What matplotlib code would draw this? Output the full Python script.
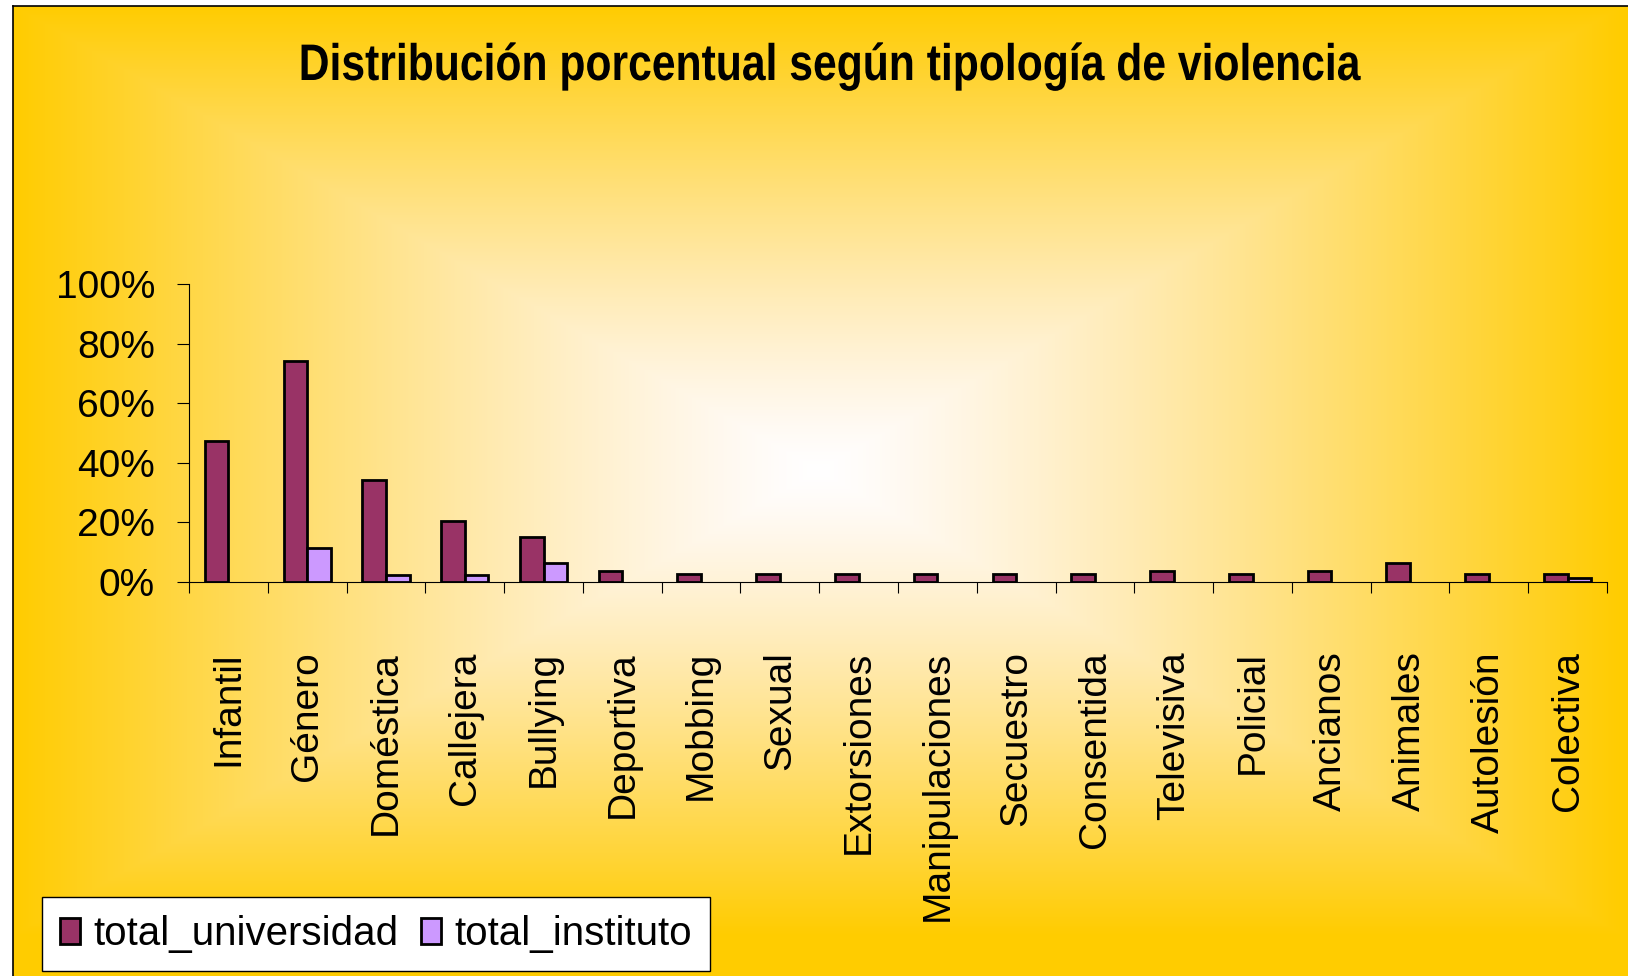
import numpy as np
import matplotlib
matplotlib.use("Agg")
import matplotlib.pyplot as plt
from matplotlib.patches import Patch
from matplotlib.ticker import PercentFormatter
from matplotlib.patheffects import AbstractPathEffect
from matplotlib.transforms import Affine2D

categorias = ["Infantil", "Género", "Doméstica", "Callejera", "Bullying",
              "Deportiva", "Mobbing", "Sexual", "Extorsiones", "Manipulaciones",
              "Secuestro", "Consentida", "Televisiva", "Policial", "Ancianos",
              "Animales", "Autolesión", "Colectiva"]
total_universidad = [47.2, 74.1, 34.3, 20.3, 15.0, 3.5, 2.6, 2.6, 2.6, 2.6,
                     2.6, 2.6, 3.7, 2.6, 3.7, 6.4, 2.6, 2.6]
total_instituto = [0, 11.3, 2.4, 2.4, 6.3, 0, 0, 0, 0, 0,
                   0, 0, 0, 0, 0, 0, 0, 1.2]


class SqueezeX(AbstractPathEffect):
    """squeeze glyphs horizontally around x0 (display px), title font is narrow"""
    def __init__(self, sx, x0):
        super().__init__()
        self.sx, self.x0 = sx, x0

    def draw_path(self, renderer, gc, tpath, affine, rgbFace=None):
        t = affine + Affine2D().translate(-self.x0, 0).scale(self.sx, 1).translate(self.x0, 0)
        renderer.draw_path(gc, tpath, t, rgbFace)


W, H = 1628, 976
plt.rcParams["font.family"] = ["Liberation Sans", "DejaVu Sans"]
fig = plt.figure(figsize=(W / 100, H / 100), dpi=100)

# rectangular "from center" gradient, yellow edges -> white center
bg = fig.add_axes([0, 0, 1, 1], zorder=-10)
xx, yy = np.meshgrid(np.arange(W), np.arange(H))
cx, cy, a, b = 818, 470, 805, 465
t = np.clip(np.maximum(np.abs(xx - cx) / a, np.abs(yy - cy) / b), 0, 1)
img = np.ones((H, W, 3))
img[..., 1] = 1 - (51 / 255) * t
img[..., 2] = 1 - t ** 1.3
img[:6, :, :] = 1
img[:, :13, :] = 1
bg.imshow(img, extent=(0, W, H, 0), aspect="auto", interpolation="bilinear")
bg.plot([13, W], [6, 6], color="black", lw=1.2)
bg.plot([13, 13], [6, H], color="black", lw=1.2)
bg.set_xlim(0, W)
bg.set_ylim(H, 0)
bg.axis("off")

title_x = 829.5
fig.text(title_x / W, 1 - 80 / H, "Distribución porcentual según tipología de violencia",
         ha="center", va="baseline", fontsize=37, fontweight="bold",
         path_effects=[SqueezeX(0.83, title_x)])

ax = fig.add_axes([189 / W, 1 - 581.7 / H, (1607 - 189) / W, (581.7 - 284.3) / H])
ax.patch.set_alpha(0)
x = np.arange(len(categorias))
w = 0.3
ax.bar(x - w / 2, total_universidad, w, color="#993366", edgecolor="black",
       linewidth=[2 if v > 0 else 0 for v in total_universidad],
       label="total_universidad")
ax.bar(x + w / 2, total_instituto, w, color="#CC99FF", edgecolor="black",
       linewidth=[2 if v > 0 else 0 for v in total_instituto],
       label="total_instituto")

ax.set_xlim(-0.5, len(categorias) - 0.5)
ax.set_ylim(0, 100)
ax.set_yticks(np.arange(0, 101, 20))
ax.yaxis.set_major_formatter(PercentFormatter(decimals=0))
ax.set_xticks(x)
ax.set_xticklabels(categorias, rotation=90)
ax.set_xticks(np.arange(-0.5, len(categorias)), minor=True)
ax.tick_params(axis="x", which="major", length=0, pad=50, labelsize=28)
ax.tick_params(axis="x", which="minor", length=8, width=0.8, direction="out")
ax.tick_params(axis="y", length=8.5, width=0.8, pad=16, labelsize=28)
for s in ["top", "right"]:
    ax.spines[s].set_visible(False)
for s in ["left", "bottom"]:
    ax.spines[s].set_linewidth(0.8)

handles = [Patch(facecolor="#993366", edgecolor="black", linewidth=2),
           Patch(facecolor="#CC99FF", edgecolor="black", linewidth=2)]
leg = fig.legend(handles, ["total_universidad", "total_instituto"],
                 loc="upper left", bbox_to_anchor=(42 / W, 1 - 897 / H),
                 borderaxespad=0, ncol=2, fontsize=29, frameon=True,
                 fancybox=False, handlelength=0.5, handleheight=0.6,
                 handletextpad=0.33, columnspacing=0.55, borderpad=0.45)
leg.get_frame().set_edgecolor("black")
leg.get_frame().set_linewidth(1)
leg.get_frame().set_facecolor("white")
leg.get_frame().set_alpha(1)

fig.savefig("out.png", dpi=100)
